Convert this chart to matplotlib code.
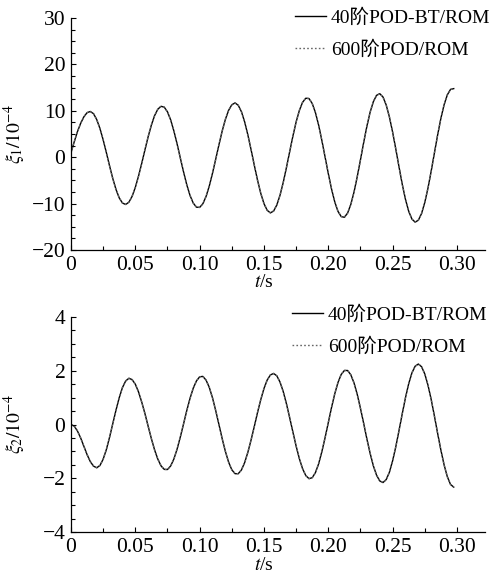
import numpy as np
import matplotlib
matplotlib.use("Agg")
import matplotlib.pyplot as plt
from matplotlib.ticker import MultipleLocator, FuncFormatter

plt.rcParams['font.family'] = ['Liberation Serif', 'Noto Sans CJK SC']
plt.rcParams['mathtext.fontset'] = 'stix'
plt.rcParams['axes.unicode_minus'] = True

# time samples (s), step 0.0025
t = np.arange(120) * 0.0025

# modal coordinate xi_1 (x 1e-4)
xi1_bt40 = [
    1.0, 3.3, 5.5, 7.3, 8.7, 9.6, 9.85, 9.38, 8.11, 6.19,
    3.74, 0.98, -1.90, -4.62, -6.97, -8.78, -9.88, -10.19, -9.70, -8.44,
    -6.51, -4.06, -1.30, 1.62, 4.44, 6.95, 8.98, 10.35, 10.97, 10.78,
    9.77, 8.01, 5.62, 2.83, -0.20, -3.19, -5.95, -8.23, -9.88, -10.77,
    -10.82, -10.03, -8.45, -6.20, -3.44, -0.41, 2.69, 5.62, 8.15, 10.10,
    11.30, 11.70, 11.19, 9.79, 7.59, 4.78, 1.58, -1.76, -4.97, -7.78,
    -10.01, -11.45, -12.0, -11.60, -10.29, -8.17, -5.40, -2.18, 1.22, 4.57,
    7.60, 10.07, 11.83, 12.71, 12.64, 11.58, 9.61, 6.89, 3.60, 0.03,
    -3.53, -6.84, -9.62, -11.66, -12.79, -12.95, -12.04, -10.18, -7.50, -4.19,
    -0.56, 3.17, 6.68, 9.69, 11.96, 13.33, 13.69, 12.98, 11.26, 8.67,
    5.39, 1.71, -2.14, -5.86, -9.10, -11.66, -13.34, -13.99, -13.58, -12.13,
    -9.75, -6.63, -2.96, 0.95, 4.82, 8.36, 11.30, 13.43, 14.61, 14.78,
]
# the 600-order reference solution is indistinguishable at this scale
xi1_pod600 = list(xi1_bt40)

# modal coordinate xi_2 (x 1e-4)
xi2_bt40 = [
    0.0, -0.06, -0.24, -0.50, -0.81, -1.12, -1.38, -1.55, -1.61, -1.525,
    -1.29, -0.93, -0.47, 0.035, 0.54, 1.00, 1.375, 1.62, 1.72, 1.67,
    1.50, 1.21, 0.83, 0.40, -0.07, -0.53, -0.95, -1.29, -1.54, -1.67,
    -1.675, -1.54, -1.28, -0.91, -0.46, 0.025, 0.52, 0.97, 1.35, 1.62,
    1.775, 1.79, 1.65, 1.38, 0.99, 0.515, -0.003, -0.525, -1.00, -1.40,
    -1.685, -1.83, -1.83, -1.69, -1.415, -1.03, -0.57, -0.07, 0.45, 0.925,
    1.34, 1.655, 1.845, 1.90, 1.81, 1.575, 1.22, 0.765, 0.25, -0.285,
    -0.805, -1.27, -1.645, -1.90, -2.015, -1.98, -1.79, -1.46, -1.01, -0.49,
    0.07, 0.63, 1.14, 1.56, 1.86, 2.01, 2.01, 1.85, 1.545, 1.12,
    0.60, 0.04, -0.54, -1.07, -1.535, -1.885, -2.10, -2.16, -2.05, -1.775,
    -1.35, -0.82, -0.215, 0.405, 1.00, 1.52, 1.92, 2.17, 2.25, 2.15,
    1.88, 1.46, 0.925, 0.31, -0.335, -0.95, -1.50, -1.94, -2.23, -2.33,
]
xi2_pod600 = list(xi2_bt40)

labels = ["40阶POD-BT/ROM", "600阶POD/ROM"]
ylabels = [r"$\xi_1/10^{-4}$", r"$\xi_2/10^{-4}$"]

FS = 14
TICK_FS = 15.5
W, H = 496, 577
fig = plt.figure(figsize=(W / 100, H / 100), dpi=100)

def px_rect(left, top, right, bottom):
    return [left / W, 1 - bottom / H, (right - left) / W, (bottom - top) / H]

ax1 = fig.add_axes(px_rect(71, 18, 485, 250))
ax2 = fig.add_axes(px_rect(71, 317, 485, 532))

panels = [
    (ax1, xi1_bt40, xi1_pod600, (-20, 30), 10, 2.5, (295, 8), -0.105),
    (ax2, xi2_bt40, xi2_pod600, (-4, 4), 2, 0.5, (292, 305), -0.118),
]

for i, (ax, bt, full, ylim, ymaj, ymin, leg_xy, xlab_y) in enumerate(panels):
    ax.plot(t, bt, color="black", lw=1.0, label=labels[0])
    ax.plot(t, full, color="#666666", lw=1.0, ls=(0, (1.2, 1.6)), label=labels[1])

    ax.set_xlim(0, 0.3218)
    ax.set_ylim(*ylim)
    ax.xaxis.set_major_locator(MultipleLocator(0.05))
    ax.xaxis.set_minor_locator(MultipleLocator(0.025))
    ax.xaxis.set_major_formatter(FuncFormatter(lambda v, _: "0" if abs(v) < 1e-9 else f"{v:.2f}"))
    ax.yaxis.set_major_locator(MultipleLocator(ymaj))
    ax.yaxis.set_minor_locator(MultipleLocator(ymin))

    for s in ("top", "right"):
        ax.spines[s].set_visible(False)
    for s in ("left", "bottom"):
        ax.spines[s].set_linewidth(0.9)
    ax.tick_params(which="both", direction="in", width=0.8, labelsize=TICK_FS)
    ax.tick_params(axis="x", pad=4)
    ax.tick_params(axis="y", pad=4)
    ax.tick_params(which="major", length=3.5)
    ax.tick_params(which="minor", length=3)

    ax.set_xlabel(r"$t$/s", fontsize=FS)
    ax.xaxis.set_label_coords(0.15 / 0.3218, xlab_y)
    ax.set_ylabel(ylabels[i], fontsize=FS)
    ax.yaxis.set_label_coords(-0.105, 0.5)

    ax.legend(loc="upper left", bbox_to_anchor=(leg_xy[0] / W, 1 - leg_xy[1] / H),
              bbox_transform=fig.transFigure, frameon=False, fontsize=FS,
              borderpad=0, borderaxespad=0, handlelength=1.6, handletextpad=0.25,
              labelspacing=0.7)

fig.savefig("out.png", dpi=100)
